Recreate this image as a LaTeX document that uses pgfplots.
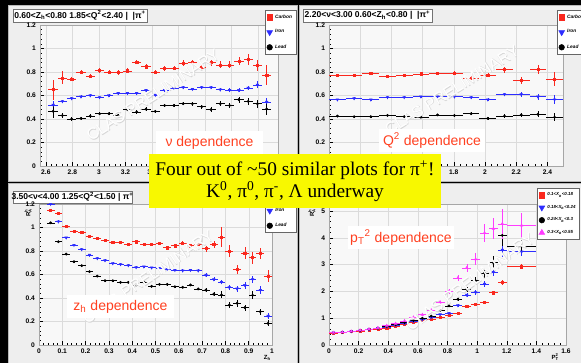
\documentclass[border=0pt]{standalone}
\usepackage{fontspec}
\setmainfont{Liberation Sans}
\newfontfamily\serif{Liberation Serif}
\usepackage{pgfplots}
\pgfplotsset{compat=1.18}

\definecolor{cRed}{RGB}{250,40,30}
\definecolor{cBlue}{RGB}{45,45,255}
\definecolor{cMag}{RGB}{255,60,255}
\definecolor{labRed}{RGB}{255,64,32}
\definecolor{padGray}{RGB}{238,238,238}
\definecolor{frameGray}{RGB}{248,248,248}
\definecolor{hiYellow}{RGB}{248,248,0}

\pgfplotsset{
  rootpad/.style={
    scale only axis, anchor=south west,
    axis background/.style={fill=frameGray},
    axis line style={gray!70, line width=0.4pt},
    grid=major, grid style={gray!28, line width=0.3pt},
    tick align=inside, xtick pos=left, ytick pos=left,
    major tick length=3pt, minor tick length=1.5pt, minor tick num=4,
    tick style={black, line width=0.35pt},
    tick label style={font=\fontsize{5}{6}\selectfont\bfseries},
    /pgf/number format/assume math mode=true,
    xticklabel style={yshift=0.5pt},
    yticklabel style={xshift=0.5pt},
    label style={font=\fontsize{4.5}{5}\selectfont\bfseries},
    legend cell align=left,
    legend style={anchor=north west, draw=black!60, fill=white, line width=0.4pt,
      font=\fontsize{3.6}{4}\selectfont\bfseries\itshape, inner sep=1.2pt, row sep=3.2pt},
    legend image code/.code={\draw[mark repeat=1,##1] plot coordinates {(0.1cm,0cm)};},
  },
  errs/.style={only marks,
    error bars/x dir=both, error bars/x explicit,
    error bars/y dir=both, error bars/y explicit,
    error bars/error mark=none,
    error bars/error bar style={line width=0.35pt}},
  carbon/.style={errs, color=cRed, mark=square*, mark size=0.8pt,
    legend image post style={mark size=2.1pt}},
  iron/.style={errs, color=cBlue, mark=triangle*, mark size=1.1pt,
    mark options={rotate=180}, legend image post style={mark size=2.5pt}},
  lead/.style={errs, color=black, mark=*, mark size=0.85pt,
    legend image post style={mark size=2.1pt}},
  purp/.style={errs, color=cMag, mark=triangle*, mark size=1.1pt,
    legend image post style={mark size=2.5pt}},
}

\newcommand\titlebox[5]{%
  \fill[black!75] ({#1+1.3},{#2+1.3}) rectangle ({#3+1.3},{#4+1.3});
  \filldraw[fill=white, draw=black!55, line width=0.4pt] (#1,#2) rectangle (#3,#4);
  \node[font=\fontsize{6.4}{7}\selectfont\bfseries, inner sep=0pt]
    at ({(#1+#3)/2},{(#2+#4)/2}) {#5};}

\newcommand\tag[3]{%
  \node[fill=white, text=labRed, font=\fontsize{10.5}{12}\selectfont,
    minimum width=80pt, minimum height=17pt, inner sep=1pt] at (#1,#2) {#3};}

\newcommand\stamp[3]{%
  \node[rotate=#3, text=gray!32, font=\fontsize{12}{12}\selectfont] at ({#1+0.7},{#2+0.7}) {CLAS PRELIMINARY};
  \node[rotate=#3, text=white, font=\fontsize{12}{12}\selectfont] at (#1,#2) {CLAS PRELIMINARY};}

\begin{document}
\begin{tikzpicture}[x=0.75pt,y=-0.75pt]
\useasboundingbox (0,0) rectangle (581,363);
\clip (0,0) rectangle (581,363);
\fill[black] (0,0) rectangle (581,363);
\foreach \a/\b/\c/\d in {8/5/297/181, 299/5/581/181, 8/183/297/363, 299/183/581/363}
  \filldraw[fill=padGray, draw=gray!55, line width=0.5pt] (\a,\b) rectangle (\c,\d);

\titlebox{13}{9}{147}{22}{0.60<Z\textsubscript{h}<0.80 1.85<Q\textsuperscript{2}<2.40 |\ \ |π\textsuperscript{+}}
\titlebox{303}{9}{432}{22}{2.20<ν<3.00 0.60<Z\textsubscript{h}<0.80 |\ \ |π\textsuperscript{+}}
\titlebox{13}{191}{132}{203}{3.50<ν<4.00 1.25<Q\textsuperscript{2}<1.50 | π\textsuperscript{+}}

% ---------- nu dependence ----------
\begin{axis}[rootpad, at={(30pt,-124.5pt)}, width=178.5pt, height=105.75pt,
  xmin=2.556, xmax=4.35, ymin=0, ymax=1.2,
  xtick={2.6,2.8,3,3.2,3.4,3.6,3.8,4,4.2}, ytick={0,0.2,0.4,0.6,0.8,1,1.2},
  legend style={at={(rel axis cs:0.945,1.106)}}]
\addplot[carbon] coordinates {
 (2.655,0.65) +- (0.035,0.085) (2.725,0.75) +- (0.035,0.055) (2.795,0.74) +- (0.035,0.02)
 (2.865,0.80) +- (0.035,0.02) (2.935,0.765) +- (0.035,0.02) (3.005,0.815) +- (0.035,0.02)
 (3.075,0.80) +- (0.035,0.02) (3.145,0.795) +- (0.035,0.02) (3.215,0.81) +- (0.035,0.02)
 (3.285,0.885) +- (0.035,0.02) (3.355,0.845) +- (0.035,0.02) (3.425,0.80) +- (0.035,0.02)
 (3.495,0.83) +- (0.035,0.02) (3.565,0.835) +- (0.035,0.02) (3.635,0.875) +- (0.035,0.025)
 (3.705,0.88) +- (0.035,0.025) (3.775,0.84) +- (0.035,0.025) (3.845,0.88) +- (0.035,0.025)
 (3.915,0.86) +- (0.035,0.03) (3.985,0.86) +- (0.035,0.03) (4.055,0.895) +- (0.035,0.035)
 (4.125,0.905) +- (0.035,0.045) (4.195,0.855) +- (0.035,0.045) (4.265,0.775) +- (0.035,0.085)};
\addlegendentry{Carbon}
\addplot[iron] coordinates {
 (2.655,0.52) +- (0.035,0.03) (2.725,0.55) +- (0.035,0.015) (2.795,0.575) +- (0.035,0.012)
 (2.865,0.59) +- (0.035,0.012) (2.935,0.60) +- (0.035,0.012) (3.005,0.585) +- (0.035,0.012)
 (3.075,0.60) +- (0.035,0.012) (3.145,0.62) +- (0.035,0.012) (3.215,0.62) +- (0.035,0.012)
 (3.285,0.62) +- (0.035,0.012) (3.355,0.645) +- (0.035,0.012) (3.425,0.605) +- (0.035,0.012)
 (3.495,0.645) +- (0.035,0.012) (3.565,0.665) +- (0.035,0.012) (3.635,0.67) +- (0.035,0.012)
 (3.705,0.655) +- (0.035,0.012) (3.775,0.67) +- (0.035,0.015) (3.845,0.67) +- (0.035,0.015)
 (3.915,0.65) +- (0.035,0.015) (3.985,0.645) +- (0.035,0.015) (4.055,0.645) +- (0.035,0.018)
 (4.125,0.665) +- (0.035,0.02) (4.195,0.69) +- (0.035,0.03) (4.265,0.545) +- (0.035,0.035)};
\addlegendentry{Iron}
\addplot[lead] coordinates {
 (2.655,0.465) +- (0.035,0.06) (2.725,0.43) +- (0.035,0.02) (2.795,0.40) +- (0.035,0.015)
 (2.865,0.405) +- (0.035,0.015) (2.935,0.425) +- (0.035,0.015) (3.005,0.445) +- (0.035,0.015)
 (3.075,0.445) +- (0.035,0.015) (3.145,0.43) +- (0.035,0.015) (3.215,0.48) +- (0.035,0.015)
 (3.285,0.46) +- (0.035,0.015) (3.355,0.485) +- (0.035,0.015) (3.425,0.465) +- (0.035,0.015)
 (3.495,0.515) +- (0.035,0.015) (3.565,0.515) +- (0.035,0.015) (3.635,0.53) +- (0.035,0.015)
 (3.705,0.53) +- (0.035,0.018) (3.775,0.505) +- (0.035,0.018) (3.845,0.48) +- (0.035,0.02)
 (3.915,0.53) +- (0.035,0.02) (3.985,0.515) +- (0.035,0.02) (4.055,0.565) +- (0.035,0.025)
 (4.125,0.55) +- (0.035,0.03) (4.195,0.53) +- (0.035,0.035) (4.265,0.485) +- (0.035,0.05)};
\addlegendentry{Lead}
\end{axis}

% ---------- Q2 dependence ----------
\begin{axis}[rootpad, at={(246.75pt,-124.5pt)}, width=175.5pt, height=105.75pt,
  xmin=1.0, xmax=2.5, ymin=0, ymax=1.2,
  xtick={1,1.2,1.4,1.6,1.8,2,2.2,2.4}, ytick={0,0.2,0.4,0.6,0.8,1,1.2},
  legend style={at={(rel axis cs:0.974,1.106)}}]
\addplot[carbon] coordinates {
 (1.054,0.77) +- (0.0536,0.012) (1.161,0.77) +- (0.0536,0.012) (1.268,0.79) +- (0.0536,0.012)
 (1.375,0.765) +- (0.0536,0.012) (1.482,0.775) +- (0.0536,0.012) (1.589,0.785) +- (0.0536,0.012)
 (1.696,0.79) +- (0.0536,0.012) (1.804,0.79) +- (0.0536,0.015) (1.911,0.75) +- (0.0536,0.018)
 (2.018,0.775) +- (0.0536,0.02) (2.125,0.82) +- (0.0536,0.025) (2.232,0.73) +- (0.0536,0.03)
 (2.339,0.82) +- (0.0536,0.04) (2.446,0.74) +- (0.0536,0.06)};
\addlegendentry{Carbon}
\addplot[iron] coordinates {
 (1.054,0.565) +- (0.0536,0.008) (1.161,0.575) +- (0.0536,0.008) (1.268,0.565) +- (0.0536,0.008)
 (1.375,0.585) +- (0.0536,0.008) (1.482,0.585) +- (0.0536,0.008) (1.589,0.59) +- (0.0536,0.008)
 (1.696,0.59) +- (0.0536,0.008) (1.804,0.59) +- (0.0536,0.01) (1.911,0.585) +- (0.0536,0.012)
 (2.018,0.565) +- (0.0536,0.015) (2.125,0.61) +- (0.0536,0.015) (2.232,0.61) +- (0.0536,0.02)
 (2.339,0.59) +- (0.0536,0.025) (2.446,0.565) +- (0.0536,0.035)};
\addlegendentry{Iron}
\addplot[lead] coordinates {
 (1.054,0.425) +- (0.0536,0.008) (1.161,0.42) +- (0.0536,0.008) (1.268,0.42) +- (0.0536,0.008)
 (1.375,0.43) +- (0.0536,0.008) (1.482,0.42) +- (0.0536,0.008) (1.589,0.415) +- (0.0536,0.008)
 (1.696,0.435) +- (0.0536,0.008) (1.804,0.43) +- (0.0536,0.01) (1.911,0.445) +- (0.0536,0.012)
 (2.018,0.405) +- (0.0536,0.015) (2.125,0.425) +- (0.0536,0.015) (2.232,0.435) +- (0.0536,0.02)
 (2.339,0.44) +- (0.0536,0.025) (2.446,0.415) +- (0.0536,0.035)};
\addlegendentry{Lead}
\end{axis}

% ---------- z_h dependence ----------
\begin{axis}[rootpad, at={(29.25pt,-258.75pt)}, width=174.75pt, height=105.75pt,
  xmin=0, xmax=1, ymin=0, ymax=1.2,
  xtick={0,0.1,0.2,0.3,0.4,0.5,0.6,0.7,0.8,0.9,1}, ytick={0,0.2,0.4,0.6,0.8,1,1.2},
  xlabel={Z\textsubscript{h}}, ylabel={R\rlap{\textsuperscript{h}}\textsubscript{A}},
  xlabel style={at={(rel axis cs:0.98,0)}, anchor=north, yshift=-4pt},
  ylabel style={at={(rel axis cs:-0.047,1)}, anchor=east},
  legend style={at={(rel axis cs:0.97,1.11)}}]
\addplot[carbon] coordinates {
 (0.05,1.149) +- (0.0167,0.012) (0.0833,1.12) +- (0.0167,0.012) (0.1167,1.007) +- (0.0167,0.01)
 (0.15,0.965) +- (0.0167,0.01) (0.1833,0.956) +- (0.0167,0.01) (0.2167,0.922) +- (0.0167,0.01)
 (0.25,0.908) +- (0.0167,0.01) (0.2833,0.891) +- (0.0167,0.01) (0.3167,0.877) +- (0.0167,0.01)
 (0.35,0.871) +- (0.0167,0.01) (0.3833,0.857) +- (0.0167,0.01) (0.4167,0.879) +- (0.0167,0.012)
 (0.45,0.857) +- (0.0167,0.012) (0.4833,0.86) +- (0.0167,0.012) (0.5167,0.868) +- (0.0167,0.012)
 (0.55,0.828) +- (0.0167,0.014) (0.5833,0.845) +- (0.0167,0.015) (0.6167,0.868) +- (0.0167,0.016)
 (0.65,0.845) +- (0.0167,0.018) (0.6833,0.86) +- (0.0167,0.02) (0.7167,0.82) +- (0.0167,0.025)
 (0.75,0.857) +- (0.0167,0.03) (0.7833,0.916) +- (0.0167,0.085) (0.8167,0.80) +- (0.0167,0.05)
 (0.85,0.644) +- (0.0167,0.04) (0.8833,0.78) +- (0.0167,0.05) (0.9167,0.743) +- (0.0167,0.05)
 (0.95,0.78) +- (0.0167,0.045) (0.9833,0.587) +- (0.0167,0.05)};
\addlegendentry{Carbon}
\addplot[iron] coordinates {
 (0.05,1.20) +- (0.0167,0.01) (0.0833,1.05) +- (0.0167,0.01) (0.1167,0.913) +- (0.0167,0.008)
 (0.15,0.851) +- (0.0167,0.008) (0.1833,0.814) +- (0.0167,0.008) (0.2167,0.766) +- (0.0167,0.008)
 (0.25,0.738) +- (0.0167,0.008) (0.2833,0.72) +- (0.0167,0.008) (0.3167,0.695) +- (0.0167,0.008)
 (0.35,0.687) +- (0.0167,0.008) (0.3833,0.678) +- (0.0167,0.008) (0.4167,0.661) +- (0.0167,0.008)
 (0.45,0.667) +- (0.0167,0.008) (0.4833,0.658) +- (0.0167,0.008) (0.5167,0.652) +- (0.0167,0.008)
 (0.55,0.647) +- (0.0167,0.01) (0.5833,0.638) +- (0.0167,0.01) (0.6167,0.633) +- (0.0167,0.01)
 (0.65,0.638) +- (0.0167,0.012) (0.6833,0.633) +- (0.0167,0.012) (0.7167,0.596) +- (0.0167,0.015)
 (0.75,0.559) +- (0.0167,0.018) (0.7833,0.536) +- (0.0167,0.02) (0.8167,0.49) +- (0.0167,0.02)
 (0.85,0.479) +- (0.0167,0.025) (0.8833,0.51) +- (0.0167,0.03) (0.9167,0.559) +- (0.0167,0.03)
 (0.95,0.468) +- (0.0167,0.03) (0.9833,0.247) +- (0.0167,0.025)};
\addlegendentry{Iron}
\addplot[lead] coordinates {
 (0.05,1.04) +- (0.0167,0.01) (0.0833,0.879) +- (0.0167,0.01) (0.1167,0.774) +- (0.0167,0.008)
 (0.15,0.709) +- (0.0167,0.008) (0.1833,0.675) +- (0.0167,0.008) (0.2167,0.624) +- (0.0167,0.008)
 (0.25,0.587) +- (0.0167,0.008) (0.2833,0.547) +- (0.0167,0.008) (0.3167,0.547) +- (0.0167,0.008)
 (0.35,0.533) +- (0.0167,0.008) (0.3833,0.533) +- (0.0167,0.008) (0.4167,0.511) +- (0.0167,0.008)
 (0.45,0.536) +- (0.0167,0.008) (0.4833,0.499) +- (0.0167,0.008) (0.5167,0.516) +- (0.0167,0.008)
 (0.55,0.516) +- (0.0167,0.01) (0.5833,0.496) +- (0.0167,0.01) (0.6167,0.491) +- (0.0167,0.01)
 (0.65,0.511) +- (0.0167,0.012) (0.6833,0.477) +- (0.0167,0.012) (0.7167,0.468) +- (0.0167,0.015)
 (0.75,0.434) +- (0.0167,0.02) (0.7833,0.426) +- (0.0167,0.03) (0.8167,0.34) +- (0.0167,0.025)
 (0.85,0.355) +- (0.0167,0.03) (0.8833,0.318) +- (0.0167,0.025) (0.9167,0.423) +- (0.0167,0.035)
 (0.95,0.284) +- (0.0167,0.025) (0.9833,0.184) +- (0.0167,0.025)};
\addlegendentry{Lead}
\end{axis}

% ---------- pT2 dependence ----------
\begin{axis}[rootpad, at={(246.75pt,-258.75pt)}, width=177.75pt, height=105.75pt,
  xmin=0, xmax=1.6, ymin=0, ymax=5.26,
  xtick={0,0.2,0.4,0.6,0.8,1,1.2,1.4,1.6}, ytick={0,1,2,3,4,5},
  xlabel={P\rlap{\textsuperscript{2}}\textsubscript{T}}, ylabel={R\rlap{\textsuperscript{h}}\textsubscript{A}},
  xlabel style={at={(rel axis cs:0.955,0)}, anchor=north, yshift=-3pt},
  ylabel style={at={(rel axis cs:-0.072,1)}, anchor=east},
  legend style={at={(rel axis cs:0.878,1.113)}, font=\fontsize{3.3}{3.6}\selectfont\bfseries\itshape, row sep=1.6pt}]
\addplot[carbon] coordinates {
 (0.03,0.45) +- (0.03,0.01) (0.09,0.47) +- (0.03,0.01) (0.15,0.50) +- (0.03,0.01)
 (0.21,0.53) +- (0.03,0.01) (0.27,0.57) +- (0.03,0.01) (0.33,0.60) +- (0.03,0.012)
 (0.39,0.64) +- (0.03,0.012) (0.45,0.70) +- (0.03,0.015) (0.51,0.77) +- (0.03,0.015)
 (0.57,0.84) +- (0.03,0.018) (0.63,0.91) +- (0.03,0.02) (0.69,0.97) +- (0.03,0.022)
 (0.75,1.02) +- (0.03,0.025) (0.81,1.12) +- (0.03,0.03) (0.87,1.18) +- (0.03,0.035)
 (0.93,1.45) +- (0.03,0.04) (0.99,1.52) +- (0.03,0.045) (1.05,1.59) +- (0.03,0.06)
 (1.11,1.95) +- (0.03,0.08) (1.17,2.33) +- (0.03,0.1) (1.30,2.92) +- (0.1,0.1)};
\addlegendentry{0.1<X\textsubscript{B}<0.18}
\addplot[iron] coordinates {
 (0.03,0.46) +- (0.03,0.01) (0.09,0.48) +- (0.03,0.01) (0.15,0.51) +- (0.03,0.01)
 (0.21,0.54) +- (0.03,0.01) (0.27,0.58) +- (0.03,0.01) (0.33,0.63) +- (0.03,0.012)
 (0.39,0.68) +- (0.03,0.012) (0.45,0.74) +- (0.03,0.015) (0.51,0.80) +- (0.03,0.015)
 (0.57,0.88) +- (0.03,0.02) (0.63,0.95) +- (0.03,0.025) (0.69,1.03) +- (0.03,0.03)
 (0.75,1.14) +- (0.03,0.035) (0.81,1.19) +- (0.03,0.04) (0.87,1.48) +- (0.03,0.05)
 (0.93,1.87) +- (0.03,0.07) (0.99,1.96) +- (0.03,0.08) (1.05,2.28) +- (0.03,0.1)
 (1.11,2.72) +- (0.03,0.15) (1.17,3.55) +- (0.03,0.25) (1.30,3.48) +- (0.1,0.15)};
\addlegendentry{0.18<X\textsubscript{B}<0.24}
\addplot[lead] coordinates {
 (0.03,0.46) +- (0.03,0.01) (0.09,0.48) +- (0.03,0.01) (0.15,0.51) +- (0.03,0.01)
 (0.21,0.54) +- (0.03,0.01) (0.27,0.59) +- (0.03,0.01) (0.33,0.63) +- (0.03,0.012)
 (0.39,0.70) +- (0.03,0.015) (0.45,0.76) +- (0.03,0.015) (0.51,0.84) +- (0.03,0.02)
 (0.57,0.92) +- (0.03,0.025) (0.63,1.00) +- (0.03,0.03) (0.69,1.08) +- (0.03,0.035)
 (0.75,1.29) +- (0.03,0.04) (0.81,1.46) +- (0.03,0.05) (0.87,1.71) +- (0.03,0.07)
 (0.93,2.08) +- (0.03,0.09) (0.99,2.40) +- (0.03,0.12) (1.05,2.69) +- (0.03,0.18)
 (1.11,3.07) +- (0.03,0.25) (1.17,4.09) +- (0.03,0.4) (1.30,3.68) +- (0.1,0.25)};
\addlegendentry{0.24<X\textsubscript{B}<0.3}
\addplot[purp] coordinates {
 (0.03,0.46) +- (0.03,0.01) (0.09,0.48) +- (0.03,0.01) (0.15,0.51) +- (0.03,0.01)
 (0.21,0.55) +- (0.03,0.01) (0.27,0.59) +- (0.03,0.012) (0.33,0.64) +- (0.03,0.012)
 (0.39,0.72) +- (0.03,0.015) (0.45,0.80) +- (0.03,0.02) (0.51,0.90) +- (0.03,0.025)
 (0.57,1.03) +- (0.03,0.03) (0.63,1.13) +- (0.03,0.035) (0.69,1.30) +- (0.03,0.04)
 (0.75,1.60) +- (0.03,0.06) (0.81,2.00) +- (0.03,0.08) (0.87,2.50) +- (0.03,0.12)
 (0.93,2.88) +- (0.03,0.16) (0.99,3.20) +- (0.03,0.22) (1.05,4.18) +- (0.03,0.35)
 (1.11,4.34) +- (0.03,0.4) (1.17,4.52) +- (0.03,0.55) (1.30,4.46) +- (0.1,0.45)};
\addlegendentry{0.3<X\textsubscript{B}<0.55}
\end{axis}

% watermarks
\stamp{153}{95}{33}
\stamp{452}{90}{32}
\stamp{148}{277}{34}
\stamp{470}{282}{36}

% panel captions
\tag{209.5}{142.5}{ν dependence}
\tag{432}{140.5}{Q\textsuperscript{2} dependence}
\tag{120.5}{306.5}{z\textsubscript{h} dependence}
\tag{401}{237.5}{p\textsubscript{T}\textsuperscript{2} dependence}

% highlighted note
\fill[hiYellow] (149,154) rectangle (441,208);
\node[font=\serif\fontsize{14.5}{16.5}\selectfont, align=center, text=black] at (295,181.5)
  {Four out of \textasciitilde50 similar plots for π\textsuperscript{+}!\\
   K\textsuperscript{0}, π\textsuperscript{0}, π\textsuperscript{-}, Λ underway};
\end{tikzpicture}
\end{document}
